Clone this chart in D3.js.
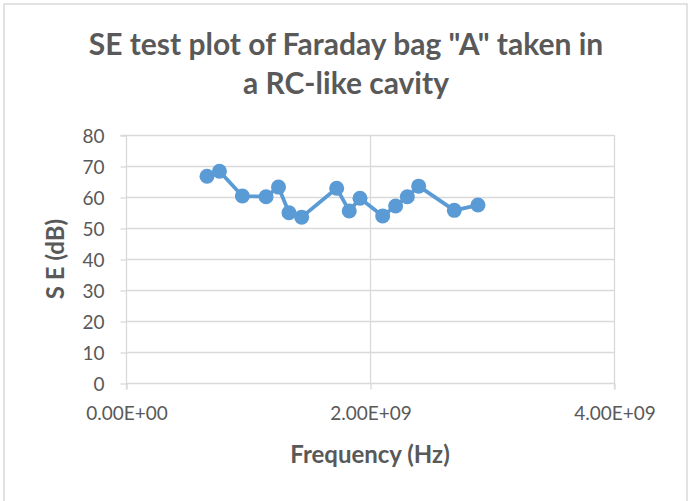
<!DOCTYPE html>
<html>
<head>
<meta charset="utf-8">
<script src="https://cdn.jsdelivr.net/npm/d3@7"></script>
<style>
  body { margin: 0; background: #fff; }
  text { font-family: Lato, "Open Sans", sans-serif; fill: #595959; }
</style>
</head>
<body>
<div class="chart"></div>
<script>
// frequency in Hz, shielding effectiveness in dB
var freqs = [0.664e9, 0.766e9, 0.954e9, 1.148e9, 1.250e9, 1.336e9, 1.440e9, 1.727e9,
             1.830e9, 1.918e9, 2.104e9, 2.210e9, 2.306e9, 2.399e9, 2.691e9, 2.885e9]
var seVals = [66.7, 68.3, 60.3, 60.1, 63.2, 54.9, 53.5, 62.8,
              55.5, 59.6, 53.9, 57.1, 60.1, 63.5, 55.7, 57.4]
var xTicks = [0, 2e9, 4e9]
var yTicks = [0, 10, 20, 30, 40, 50, 60, 70, 80]
var titleLines = ['SE test plot of Faraday bag "A" taken in', 'a RC-like cavity']

var width = 689, height = 501
var plot = {left: 126, right: 614, top: 135, bottom: 383}

var svg = d3.select('.chart').append('svg')
  .attr('width', width).attr('height', height)

svg.append('rect')
  .attr('x', 4).attr('y', 4)
  .attr('width', 683).attr('height', 500)
  .attr('fill', '#fff').attr('stroke', '#d9d9d9').attr('stroke-width', 1.5)

var x = d3.scaleLinear().domain([0, 4e9]).range([plot.left, plot.right])
var y = d3.scaleLinear().domain([0, 80]).range([plot.bottom, plot.top])

// gridlines
svg.append('g').selectAll('line').data(yTicks.slice(1)).join('line')
  .attr('x1', plot.left).attr('x2', plot.right)
  .attr('y1', d => y(d) + 0.5).attr('y2', d => y(d) + 0.5)
  .attr('stroke', '#d9d9d9').attr('stroke-width', 1.3)
svg.append('g').selectAll('line').data(xTicks.slice(1)).join('line')
  .attr('x1', d => x(d) + 0.5).attr('x2', d => x(d) + 0.5)
  .attr('y1', plot.top).attr('y2', plot.bottom)
  .attr('stroke', '#d9d9d9').attr('stroke-width', 1.3)

// axes
var xAxis = d3.axisBottom(x).tickValues(xTicks).tickSize(6)
  .tickFormat(d => (d / 1e9).toFixed(2) + 'E+' + (d ? '09' : '00'))
var xg = svg.append('g').attr('transform', `translate(0.5,${plot.bottom + 0.5})`).call(xAxis)
xg.select('.domain').attr('d', `M${plot.left},6V0H${plot.right}V6`)
xg.selectAll('.tick text').attr('y', 23).attr('dy', '0.71em').attr('font-size', 19).attr('font-family', null)

var yAxis = d3.axisLeft(y).tickValues(yTicks).tickSize(6)
var yg = svg.append('g').attr('transform', `translate(${plot.left + 0.5},0.5)`).call(yAxis)
yg.select('.domain').attr('d', `M-6,${plot.top}H0V${plot.bottom}`)
yg.selectAll('.tick text').attr('x', -22).attr('dy', '0.35em').attr('font-size', 19).attr('font-family', null)

svg.selectAll('.domain, .tick line').attr('stroke', '#d9d9d9').attr('stroke-width', 1.3)
svg.selectAll('.tick text').attr('fill', '#595959')

// series
var pts = freqs.map((f, i) => [f, seVals[i]])
svg.append('path')
  .datum(pts)
  .attr('d', d3.line().x(d => x(d[0])).y(d => y(d[1])))
  .attr('fill', 'none').attr('stroke', '#5b9bd5').attr('stroke-width', 3.8)
  .attr('stroke-linejoin', 'round')
svg.append('g').selectAll('circle').data(pts).join('circle')
  .attr('cx', d => x(d[0])).attr('cy', d => y(d[1])).attr('r', 7.5)
  .attr('fill', '#5b9bd5')

// titles
svg.append('text').attr('text-anchor', 'middle').attr('font-size', 30).attr('font-weight', 700)
  .selectAll('tspan').data(titleLines).join('tspan')
  .attr('x', 346).attr('y', (d, i) => 55 + i * 39)
  .text(d => d)

svg.append('text').attr('text-anchor', 'middle').attr('font-size', 24).attr('font-weight', 700)
  .attr('x', 370).attr('y', 463).text('Frequency (Hz)')

svg.append('text').attr('text-anchor', 'middle').attr('font-size', 24).attr('font-weight', 700)
  .attr('transform', 'translate(64,259) rotate(-90)').text('S E (dB)')
</script>
</body>
</html>
